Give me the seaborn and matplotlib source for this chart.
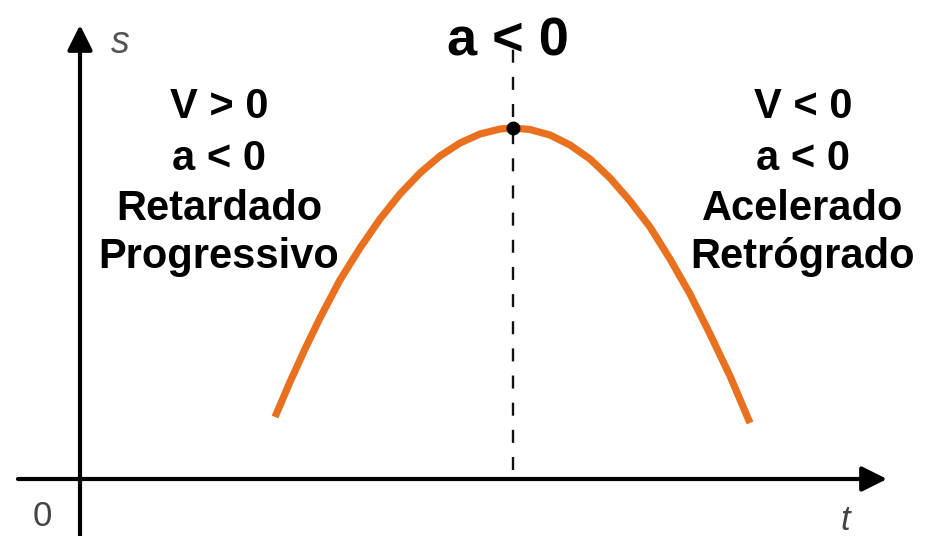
import matplotlib
matplotlib.use("Agg")
import matplotlib.pyplot as plt
import seaborn as sns
import pandas as pd

# posição s(t) (origem no cruzamento dos eixos)
t_vals = [195, 210, 225, 240, 260, 280, 300, 320, 340, 360, 380, 400, 420,
          433, 450, 470, 490, 510, 530, 550, 570, 590, 610, 630, 650, 670]
s_vals = [62, 97, 130, 161, 199, 231, 260, 285, 306, 323, 336, 345, 350,
          351, 349.5, 344, 334, 320, 301, 278, 252, 220, 185, 145, 103, 56]
t_vertice = 433
s_vertice = 351

titulo = "a < 0"
bloco_esq = ["V > 0", "a < 0", "Retardado", "Progressivo"]
bloco_dir = ["V < 0", "a < 0", "Acelerado", "Retrógrado"]

sns.set_theme(style="white")
plt.rcParams['font.family'] = ['Liberation Sans', 'DejaVu Sans']
plt.rcParams['text.color'] = 'black'

fig = plt.figure(figsize=(9.28, 5.36), dpi=100)
ax = fig.add_axes([0, 0, 1, 1])
ax.set_xlim(-80, 848)
ax.set_ylim(-57, 479)
ax.axis('off')

df = pd.DataFrame({'t': t_vals, 's': s_vals})
sns.lineplot(data=df, x='t', y='s', sort=False, color='#e8701e', lw=5.2,
             ax=ax, solid_capstyle='butt', solid_joinstyle='round', zorder=3)

# linha tracejada no vértice
ax.plot([t_vertice, t_vertice], [9, 434], color='#111111', lw=1.7,
        dashes=(5.5, 6), zorder=2)
ax.plot([t_vertice], [s_vertice], 'o', color='black', ms=9, zorder=4)

# eixos com setas
seta = dict(arrowstyle='-|>', lw=3, color='black', mutation_scale=38,
            shrinkA=0, shrinkB=0)
ax.annotate('', xy=(0, 454), xytext=(0, -57), arrowprops=seta)
ax.annotate('', xy=(807, 0), xytext=(-62, 0), arrowprops=seta)

ax.text(-38, -38, "0", fontsize=25, color='#444444', ha='center', va='center')
ax.text(40, 436, "s", fontsize=27, color='#555555', style='italic',
        ha='center', va='center')
ax.text(765, -41, "t", fontsize=25, color='#444444', style='italic',
        ha='center', va='center')

ax.text(428, 424, titulo, fontsize=39, fontweight='bold', ha='center',
        va='baseline')

bases = [361, 309, 259, 211]
for linha, y in zip(bloco_esq, bases):
    ax.text(139, y, linha, fontsize=30, fontweight='bold', ha='center',
            va='baseline')
for linha, y in zip(bloco_dir, bases):
    ax.text(723, y, linha, fontsize=30, fontweight='bold', ha='center',
            va='baseline')

fig.savefig("out.png", dpi=100, facecolor='white')
